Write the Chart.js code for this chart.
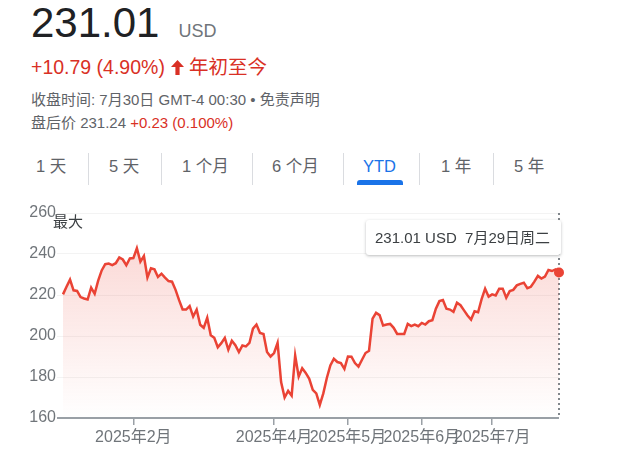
<!DOCTYPE html>
<html>
<head>
<meta charset="utf-8">
<script src="https://cdn.jsdelivr.net/npm/chart.js@4.4.1/dist/chart.umd.min.js"></script>
<style>
  body { margin: 0; width: 617px; height: 460px; background: #fff; position: relative; overflow: hidden;
         font-family: 'Liberation Sans', Arial, 'Noto Sans CJK SC', sans-serif; }
  .abs { position: absolute; white-space: nowrap; }
  #price { left: 31px; top: 2px; font-size: 42px; line-height: 42px; color: #202124; }
  #price .cur { font-size: 18px; color: #70757a; margin-left: 19px; }
  #change { left: 31px; top: 55px; font-size: 19.5px; line-height: 24px; color: #d93025; }
  #change svg { vertical-align: -1px; margin: 0 5px 0 6px; }
  .meta { left: 31px; font-size: 15px; line-height: 18px; color: #5f6368; }
  .red { color: #d93025; }
  .tab { top: 156px; font-size: 16.5px; line-height: 20px; color: #5f6368; }
  .sep { top: 153px; width: 1px; height: 32px; background: #dadce0; }
  #ytdbar { left: 357px; top: 180px; width: 46px; height: 5px; background: #1a73e8; border-radius: 3px 3px 0 0; }
  #maxlbl { left: 53px; top: 210px; font-size: 15px; color: #3c4043; }
  #tip { left: 366px; top: 220px; width: 195px; height: 35px; background: #fff; border-radius: 3px;
         box-shadow: 0 1px 3px rgba(60,64,67,0.35); font-size: 15px; line-height: 35px; color: #3c4043;
         text-indent: 9px; box-sizing: border-box; }
  #chart { position: absolute; left: 0; top: 190px; }
</style>
</head>
<body>
<div class="abs" id="price">231.01<span class="cur">USD</span></div>
<div class="abs" id="change">+10.79 (4.90%)<svg width="13" height="15" viewBox="0 0 13 15"><path fill="#d93025" d="M6.5 0L13 7H8.6V15H4.4V7H0Z"/></svg>年初至今</div>
<div class="abs meta" style="top:91px">收盘时间: 7月30日 GMT-4 00:30 • 免责声明</div>
<div class="abs meta" style="top:114px">盘后价 231.24 <span class="red">+0.23 (0.100%)</span></div>

<div class="abs tab" style="left:36px">1 天</div>
<div class="abs sep" style="left:88px"></div>
<div class="abs tab" style="left:109px">5 天</div>
<div class="abs sep" style="left:161px"></div>
<div class="abs tab" style="left:182px">1 个月</div>
<div class="abs sep" style="left:252px"></div>
<div class="abs tab" style="left:272px">6 个月</div>
<div class="abs sep" style="left:343px"></div>
<div class="abs tab" style="left:363px;color:#1a73e8">YTD</div>
<div class="abs" id="ytdbar"></div>
<div class="abs sep" style="left:419px"></div>
<div class="abs tab" style="left:441px">1 年</div>
<div class="abs sep" style="left:493px"></div>
<div class="abs tab" style="left:514px">5 年</div>

<canvas id="chart" width="617" height="270"></canvas>
<div class="abs" id="maxlbl">最大</div>
<div class="abs" id="tip"></div>

<script>
// trading days per month (2025)
const janDays = [2, 3, 6, 7, 8, 10, 13, 14, 15, 16, 17, 21, 22, 23, 24, 27, 28, 29, 30, 31];
const febDays = [3, 4, 5, 6, 7, 10, 11, 12, 13, 14, 18, 19, 20, 21, 24, 25, 26, 27, 28];
const marDays = [3, 4, 5, 6, 7, 10, 11, 12, 13, 14, 17, 18, 19, 20, 21, 24, 25, 26, 27, 28, 31];
const aprDays = [1, 2, 3, 4, 7, 8, 9, 10, 11, 14, 15, 16, 17, 21, 22, 23, 24, 25, 28, 29, 30];
const mayDays = [1, 2, 5, 6, 7, 8, 9, 12, 13, 14, 15, 16, 19, 20, 21, 22, 23, 27, 28, 29, 30];
const junDays = [2, 3, 4, 5, 6, 9, 10, 11, 12, 13, 16, 17, 18, 20, 23, 24, 25, 26, 27, 30];
const julDays = [1, 2, 3, 7, 8, 9, 10, 11, 14, 15, 16, 17, 18, 21, 22, 23, 24, 25, 28, 29];

// months that get an x tick label
const tickMonths = [2, 4, 5, 6, 7];

// closing prices (USD)
const prices = [
  220.3, 224.0, 227.5, 222.3, 222.0, 219.0, 218.3, 217.8, 223.6, 220.6,
  227.0, 232.0, 235.0, 235.3, 234.6, 235.5, 238.3, 237.3, 234.5, 237.8,
  238.0, 242.8, 236.3, 239.0, 228.5, 233.0, 232.5, 228.8, 230.4, 228.5,
  226.8, 226.5, 222.5, 217.5, 212.9, 212.9, 214.6, 209.5, 212.9, 205.5,
  204.0, 208.9, 200.4, 199.1, 194.5, 196.5, 199.1, 193.3, 197.7, 195.5,
  192.2, 195.4, 194.9, 196.6, 203.6, 205.6, 201.5, 201.0, 192.2, 190.0,
  191.7, 196.6, 177.5, 170.0, 173.2, 170.9, 190.5, 180.2, 184.3, 182.0,
  179.1, 173.7, 172.0, 166.4, 172.0, 179.5, 185.6, 188.9, 187.3, 186.8,
  184.0, 190.0, 189.9, 186.8, 185.1, 188.4, 191.7, 192.8, 208.5, 211.3,
  210.2, 205.1, 205.6, 205.9, 204.0, 201.0, 201.0, 201.0, 205.9, 204.8,
  205.6, 204.8, 206.4, 205.6, 207.2, 207.7, 213.3, 217.0, 217.5, 213.3,
  212.9, 211.8, 216.2, 215.0, 212.5, 210.0, 208.0, 212.1, 211.6, 218.0,
  223.1, 219.2, 220.3, 219.8, 223.1, 223.1, 218.7, 221.9, 222.5, 224.7,
  225.4, 226.0, 223.3, 224.0, 226.5, 229.3, 228.0, 229.0, 232.2, 231.7,
  232.5, 231.01
];

const yTicks = [160, 180, 200, 220, 240, 260];
const lastDayLabel = '7月29日周二';

const monthDays = [janDays, febDays, marDays, aprDays, mayDays, junDays, julDays];
const labels = [];
const tickAt = {};
monthDays.forEach((days, m) => {
  days.forEach((d, k) => {
    if (k === 0 && tickMonths.includes(m + 1)) tickAt[labels.length] = '2025年' + (m + 1) + '月';
    labels.push((m + 1) + '月' + d + '日');
  });
});
const lastIdx = prices.length - 1;

document.getElementById('tip').textContent = prices[lastIdx].toFixed(2) + ' USD\u00a0\u00a0' + lastDayLabel;

const fontFamily = "'Liberation Sans', Arial, 'Noto Sans CJK SC', sans-serif";

const cursorLine = {
  id: 'cursorLine',
  beforeDatasetsDraw(chart) {
    const c = chart.ctx;
    const x = chart.scales.x.getPixelForValue(lastIdx);
    c.save();
    c.strokeStyle = '#80868b';
    c.lineWidth = 2;
    c.setLineDash([2, 3]);
    c.beginPath();
    c.moveTo(x, chart.chartArea.top);
    c.lineTo(x, chart.chartArea.bottom);
    c.stroke();
    c.restore();
  }
};

new Chart(document.getElementById('chart').getContext('2d'), {
  type: 'line',
  data: {
    labels: labels,
    datasets: [{
      data: prices,
      borderColor: '#ea4335',
      borderWidth: 2.5,
      tension: 0,
      fill: 'start',
      backgroundColor: function(ctx) {
        const area = ctx.chart.chartArea;
        if (!area) return 'rgba(234,67,53,0.1)';
        const g = ctx.chart.ctx.createLinearGradient(0, area.top, 0, area.bottom);
        g.addColorStop(0, 'rgba(234,67,53,0.24)');
        g.addColorStop(1, 'rgba(234,67,53,0)');
        return g;
      },
      pointRadius: ctx => ctx.dataIndex === lastIdx ? 5 : 0,
      pointBackgroundColor: '#ea4335',
      pointBorderWidth: 0
    }]
  },
  options: {
    responsive: false,
    animation: false,
    devicePixelRatio: 1,
    layout: { padding: { top: 23, right: 58, left: 0, bottom: 0 } },
    plugins: {
      legend: { display: false },
      tooltip: { enabled: false }
    },
    scales: {
      x: {
        type: 'category',
        afterFit: s => { s.height = 42; },
        border: { display: false },
        grid: {
          drawOnChartArea: false,
          tickLength: 7,
          lineWidth: 1.5,
          color: ctx => tickAt[ctx.index] ? '#9aa0a6' : 'transparent'
        },
        ticks: {
          autoSkip: false,
          maxRotation: 0,
          padding: 3,
          color: '#70757a',
          font: { family: fontFamily, size: 16 },
          callback: (v, i) => tickAt[i] || ''
        }
      },
      y: {
        min: yTicks[0],
        max: yTicks[yTicks.length - 1],
        afterFit: s => { s.width = 63; },
        afterBuildTicks: s => { s.ticks = yTicks.map(v => ({ value: v })); },
        border: { display: false },
        grid: {
          tickLength: 6,
          color: ctx => ctx.tick && ctx.tick.value === yTicks[0] ? '#9aa0a6' : '#f3f3f3',
          lineWidth: ctx => ctx.tick && ctx.tick.value === yTicks[0] ? 2 : 1
        },
        ticks: {
          padding: 1,
          color: '#70757a',
          font: { family: fontFamily, size: 16 }
        }
      }
    }
  },
  plugins: [cursorLine]
});
</script>
</body>
</html>
